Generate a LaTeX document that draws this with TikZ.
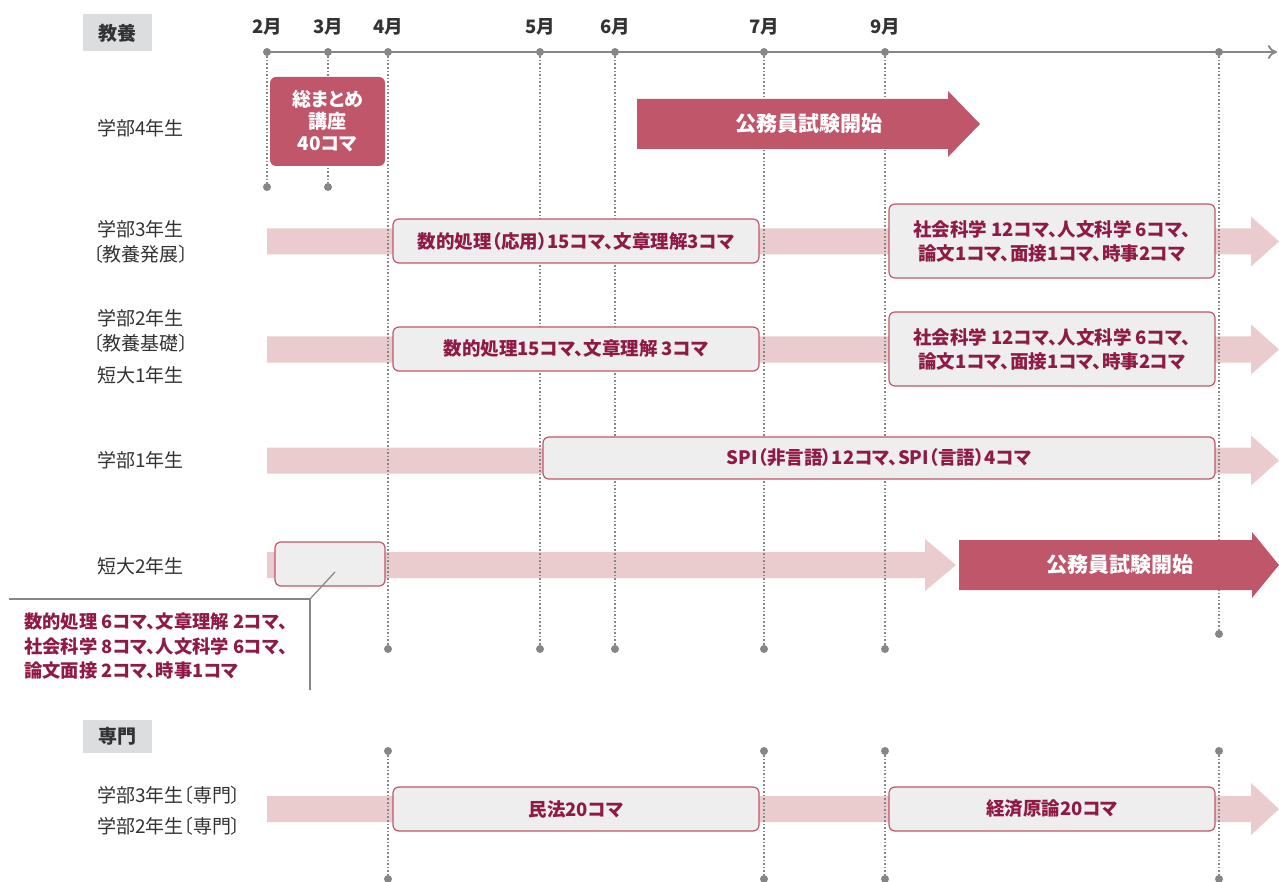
\documentclass[tikz,border=0pt]{standalone}
\usepackage{fontspec}
\setmainfont{Noto Sans CJK JP}[RawFeature=+palt]
\usetikzlibrary{arrows.meta}
\definecolor{dark}{HTML}{C0566A}
\definecolor{pale}{HTML}{EACBCE}
\definecolor{boxfill}{HTML}{EEEEEE}
\definecolor{txtred}{HTML}{8E1A45}
\definecolor{gr}{HTML}{868686}
\definecolor{lab}{HTML}{333333}
\definecolor{tagbg}{HTML}{DCDDDF}
% band arrow: #1 x0, #2 head start, #3 tip, #4 yc, #5 half body, #6 half head, #7 color
\newcommand\bandarrow[7]{%
  \fill[#7] (#1,#4-#5) -- (#2,#4-#5) -- (#2,#4-#6) -- (#3,#4) -- (#2,#4+#6) -- (#2,#4+#5) -- (#1,#4+#5) -- cycle;}
\begin{document}
\begin{tikzpicture}[x=1pt,y=-1pt,
  lbl/.style={anchor=west,text=lab,font=\fontsize{19}{22}\selectfont,inner sep=0pt},
  month/.style={text=lab,font=\fontsize{18.5}{21}\selectfont\bfseries,inner sep=0pt},
  tag/.style={fill=tagbg,text=lab,font=\fontsize{19}{22}\selectfont\bfseries,minimum width=69pt,minimum height=37pt,inner sep=0pt},
  course/.style={draw=dark,line width=1.2pt,fill=boxfill,rounded corners=6pt,text=txtred,font=\fontsize{18.5}{24}\selectfont\bfseries,align=center,inner sep=0pt},
  darkbox/.style={fill=dark,rounded corners=6pt,text=white,font=\fontsize{19}{22}\selectfont\bfseries,align=center,inner sep=0pt},
  arrowtxt/.style={text=white,font=\fontsize{21}{24}\selectfont\bfseries,inner sep=0pt},
  guide/.style={gr,line width=1.6pt,dotted},
  dot/.style={circle,fill=gr,inner sep=0pt,minimum size=8pt},
  axis/.style={gr,line width=1.8pt},
  callout/.style={gr,line width=1.2pt}
]
\useasboundingbox (0,0) rectangle (1279,882);

% ---- pale bands ----
\bandarrow{267}{1251}{1279}{241.5}{13}{25}{pale}
\bandarrow{267}{1251}{1279}{349.5}{13}{25}{pale}
\bandarrow{267}{1251}{1279}{460.5}{13}{25}{pale}
\bandarrow{267}{925}{956}{565}{13}{26}{pale}
\bandarrow{267}{1251}{1279}{809}{13}{26}{pale}

% ---- timeline axis ----
\coordinate (a0) at (267,52);
\coordinate (aend) at (1277,52);
\draw[axis,-{To[length=9pt,width=14pt,line width=1.8pt]}] (a0) -- (aend);
\foreach \n/\x/\m in {m2/267/2月, m3/328/3月, m4/388/4月, m5/540/5月, m6/615/6月, m7/764/7月, m9/885/9月}{
  \node[month] (\n) at (\x,27) {\m};
}
% top dots
\foreach \n/\x in {t2/267,t3/328,t4/388,t5/540,t6/615,t7/764,t9/885,tx/1219}{
  \node[dot] (\n) at (\x,52) {};
}
% bottom dots of upper section
\node[dot] (b2) at (267,187) {};
\node[dot] (b3) at (328,187) {};
\foreach \n/\x in {b4/388,b5/540,b6/615,b7/764,b9/885}{
  \node[dot] (\n) at (\x,649) {};
}
\node[dot] (bx) at (1219,634) {};
% guides
\foreach \a/\b in {t2/b2,t3/b3,t4/b4,t5/b5,t6/b6,t7/b7,t9/b9,tx/bx}{
  \draw[guide] (\a) -- (\b);
}
% lower section guides
\foreach \n/\x in {4/388,7/764,9/885,x/1219}{
  \node[dot] (u\n) at (\x,751) {};
  \node[dot] (l\n) at (\x,879) {};
  \draw[guide] (u\n) -- (l\n);
}

% ---- tags ----
\node[tag] (kyoyo) at (117.5,33) {教養};
\node[tag,minimum height=33pt] (senmon) at (117.5,736) {専門};

% ---- row labels ----
\node[lbl] (r4) at (97,128) {学部4年生};
\node[lbl] (r3a) at (97,229) {学部3年生};
\node[lbl] (r3b) at (93,254) {〔教養発展〕};
\node[lbl] (r2a) at (97,318) {学部2年生};
\node[lbl] (r2b) at (93,343) {〔教養基礎〕};
\node[lbl] (r2c) at (97,375) {短大1年生};
\node[lbl] (r1) at (97,460) {学部1年生};
\node[lbl] (t2y) at (97,566) {短大2年生};
\node[lbl] (s3) at (97,795) {学部3年生〔専門〕};
\node[lbl] (s2) at (97,826) {学部2年生〔専門〕};

% ---- dark shapes ----
\node[darkbox,minimum width=115pt,minimum height=89pt] (matome) at (327.5,121.5) {総まとめ\\講座\\40コマ};
\bandarrow{637}{948}{980}{124}{25}{33}{dark}
\node[arrowtxt] (exam1) at (809,124) {公務員試験開始};
\bandarrow{959}{1252}{1279}{565}{25}{33}{dark}
\node[arrowtxt] (exam2) at (1120,565) {公務員試験開始};

% ---- course boxes ----
\node[course,minimum width=366pt,minimum height=44pt] (c3a) at (576,241) {数的処理（応用）15コマ、文章理解3コマ};
\node[course,minimum width=326pt,minimum height=74pt] (c3b) at (1052,241) {社会科学 12コマ、人文科学 6コマ、\\論文1コマ、面接1コマ、時事2コマ};
\node[course,minimum width=366pt,minimum height=44pt] (c2a) at (576,349) {数的処理15コマ、文章理解 3コマ};
\node[course,minimum width=326pt,minimum height=74pt] (c2b) at (1052,349) {社会科学 12コマ、人文科学 6コマ、\\論文1コマ、面接1コマ、時事2コマ};
\node[course,minimum width=672pt,minimum height=42pt] (c1) at (879,458) {SPI（非言語）12コマ、SPI（言語）4コマ};
\node[course,minimum width=110pt,minimum height=44pt] (ct) at (330,564) {};
\node[course,minimum width=366pt,minimum height=44pt] (cm) at (576,809) {民法20コマ};
\node[course,minimum width=326pt,minimum height=44pt] (ce) at (1052,809) {経済原論20コマ};

% ---- callout ----
\coordinate (cp) at (335,572);
\coordinate (ck) at (310,599);
\coordinate (cl) at (9,599);
\coordinate (cb) at (310,690);
\draw[callout] (cp) -- (ck);
\draw[callout] (cl) -- (ck) -- (cb);
\node[anchor=north west,text=txtred,font=\fontsize{18.3}{24.5}\selectfont\bfseries,align=left,inner sep=0pt] (note) at (24,613) {数的処理 6コマ、文章理解 2コマ、\\社会科学 8コマ、人文科学 6コマ、\\論文面接 2コマ、時事1コマ};
\end{tikzpicture}
\end{document}
